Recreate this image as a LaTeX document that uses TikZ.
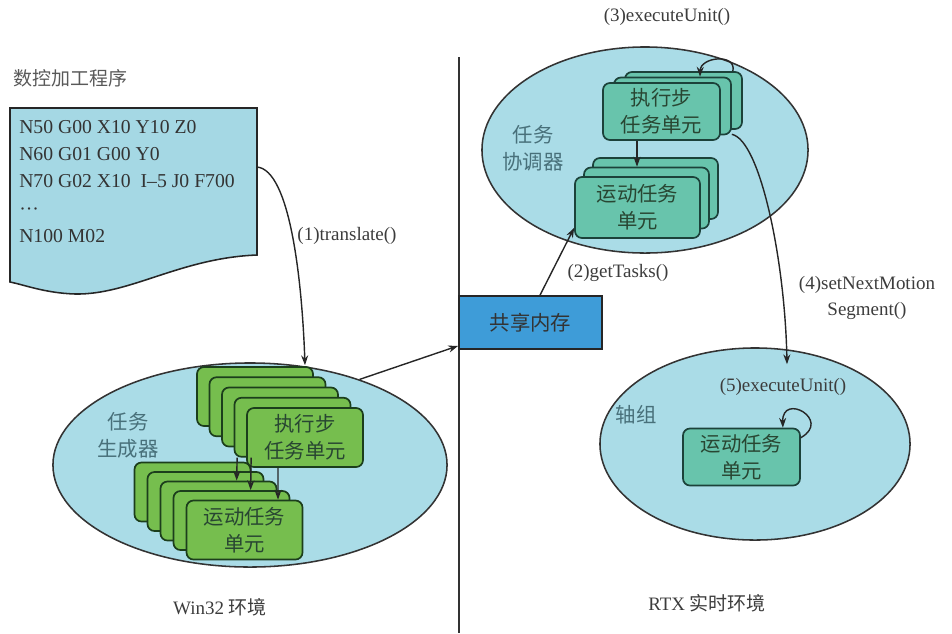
\documentclass[tikz,border=0pt]{standalone}
\usepackage{fontspec}
\setmainfont{Liberation Serif}
\newfontfamily\cjk{Noto Sans CJK SC}
\usetikzlibrary{arrows.meta,calc,shapes.geometric}
\definecolor{lightcyan}{RGB}{170,220,231}
\definecolor{docfill}{RGB}{165,216,228}
\definecolor{gfill}{RGB}{118,190,78}
\definecolor{gborder}{RGB}{28,62,28}
\definecolor{tfill}{RGB}{104,196,172}
\definecolor{tborder}{RGB}{28,66,58}
\definecolor{shmfill}{RGB}{62,156,216}
\definecolor{lblgray}{RGB}{60,60,60}
\definecolor{ellgray}{RGB}{72,112,122}
\definecolor{boxtext}{RGB}{40,70,50}
\begin{document}
\begin{tikzpicture}[x=0.025cm,y=-0.025cm,
  envell/.style={ellipse, draw=black!80, line width=1.1pt, fill=lightcyan, inner sep=0},
  gbox/.style={draw=gborder, fill=gfill, line width=1.2pt, rounded corners=5pt,
    minimum width=2.9cm, minimum height=1.475cm, inner sep=0, align=center,
    text=boxtext, font=\cjk\fontsize{14.5}{19}\selectfont},
  tbox/.style={draw=tborder, fill=tfill, line width=1.2pt, rounded corners=5pt,
    minimum width=2.925cm, minimum height=1.425cm, inner sep=0, align=center,
    text=boxtext, font=\cjk\fontsize{14.5}{19}\selectfont},
  conn/.style={-{Stealth[length=7pt,width=5pt]}, line width=1pt, draw=black!85},
  lbl/.style={font=\fontsize{13.5}{17}\selectfont, text=lblgray, inner sep=0, align=center},
  cnlbl/.style={font=\cjk\fontsize{14.5}{19}\selectfont, text=ellgray, inner sep=0, align=center},
  envlbl/.style={font=\fontsize{13.5}{17}\selectfont, text=lblgray, inner sep=0}
]
\useasboundingbox (0,0) rectangle (952,633);

% divider
\draw[line width=1.1pt, draw=black!80] (459,57) -- (459,633);

% program document
\node[anchor=west, font=\cjk\fontsize{13.5}{17}\selectfont, text=black!65, inner sep=0] (title) at (13,78) {数控加工程序};
\path[draw=black!85, line width=1.1pt, fill=docfill]
  (10,108) -- (257,108) -- (257,255)
  .. controls (180,258) and (130,295) .. (75,294)
  .. controls (45,293) and (25,285) .. (10,282) -- cycle;
\coordinate (docR) at (257,167);
\node[anchor=north west, align=left, inner sep=0, text=black!80,
  font=\fontsize{14}{19.4}\selectfont] (code) at (19,120)
  {N50 G00 X10 Y10 Z0\\N60 G01 G00 Y0\\N70 G02 X10\enspace I--5 J0 F700\\\textperiodcentered\textperiodcentered\textperiodcentered\\N100 M02};

% left environment: task generator
\node[envell, minimum width=9.85cm, minimum height=5.1cm] (gen) at (250,465) {};
\node[cnlbl] (genlbl) at (128,435) {任务\\生成器};

\foreach \i in {4,3,2,1}
  \node[gbox] (mv\i) at ({244.5-13*\i},{530-9.5*\i}) {};
\node[gbox] (mvF) at (244.5,530) {运动任务\\单元};

\foreach \i in {4,3,2,1}
  \node[gbox] (ge\i) at ({305-12.5*\i},{437.5-10.25*\i}) {};
\node[gbox] (geF) at (305,437.5) {执行步\\任务单元};

\draw[conn] ($(ge1.south west)+(3.5,0)$) -- ($(mv2.north west)+(77,0)$);
\draw[conn] ($(ge1.south west)+(17.5,0)$) -- ($(mv1.north west)+(78,0)$);
\draw[conn] ($(geF.south)+(-27,0)$) -- ($(mvF.north)+(33.5,0)$);

\node[envlbl] (win) at (220,607) {Win32 {\cjk 环境}};

% translate
\draw[conn] (docR) .. controls (290,170) and (302,280) .. ($(gen.north)+(55,3)$);
\node[lbl] (l1) at (347,236) {(1)translate()};

% shared memory
\node[draw=black!85, fill=shmfill, line width=1.2pt, minimum width=3.575cm, minimum height=1.325cm,
  inner sep=0, font=\cjk\fontsize{14.5}{19}\selectfont, text=black!80] (shm) at (530.5,322.5) {共享内存};
\draw[conn] (gen.38) -- ($(shm.south west)+(0,-4)$);

% upper right: task coordinator
\node[envell, minimum width=8.15cm, minimum height=5.15cm] (coord) at (645,150) {};
\node[cnlbl] (coordlbl) at (533,148) {任务\\协调器};

\foreach \i in {2,1}
  \node[tbox, minimum width=3.125cm, minimum height=1.525cm] (tm\i) at ({637.5+9*\i},{207.5-9.5*\i}) {};
\node[tbox, minimum width=3.125cm, minimum height=1.525cm] (tmF) at (637.5,207.5) {运动任务\\单元};

\foreach \i in {2,1}
  \node[tbox] (te\i) at ({661.5+11*\i},{111.5-5.5*\i}) {};
\node[tbox] (teF) at (661.5,111.5) {执行步\\任务单元};

\draw[conn] ($(teF.south)+(-24.5,0)$) -- ($(tm1.north)+(-9.5,0)$);
\draw[conn] ($(te2.north east)+(-10,0)$) .. controls ($(te2.north east)+(-6,-18)$) and ($(te1.north)+(28,-20)$) .. ($(te1.north)+(27.5,0)$);
\node[lbl] (l3) at (667,17) {(3)executeUnit()};

\draw[conn] ($(shm.north)+(9.5,0)$) -- ($(tmF.south west)+(0,-11)$);
\node[lbl] (l2) at (618,273) {(2)getTasks()};

% lower right: axis group
\node[envell, minimum width=7.75cm, minimum height=4.8cm] (axis) at (755,444) {};
\node[cnlbl] (axislbl) at (636,415) {轴组};
\node[tbox] (am) at (741.5,457) {运动任务\\单元};
\draw[conn] ($(am.north east)+(0,10)$) .. controls (832,420) and (782,392) .. ($(am.north east)+(-18,0)$);
\node[lbl] (l5) at (783,387) {(5)executeUnit()};

\draw[conn] ($(te1.south east)+(0,-1)$) .. controls (760,140) and (785,260) .. ($(axis.north)+(32,17)$);
\node[lbl, font=\fontsize{13.5}{19}\selectfont] (l4) at (867,298) {(4)setNextMotion\\Segment()};

\node[envlbl] (rtx) at (707,603) {RTX {\cjk 实时环境}};
\end{tikzpicture}
\end{document}
